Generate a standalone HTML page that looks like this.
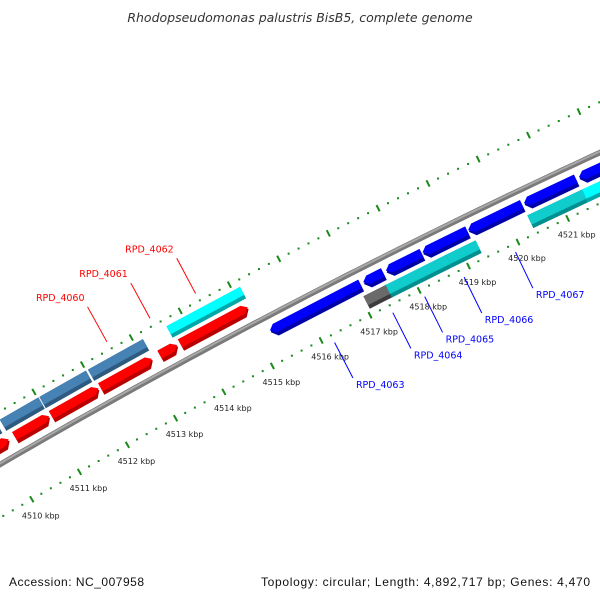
<!DOCTYPE html>
<html><head><meta charset="utf-8"><style>
html,body{margin:0;padding:0;background:#fff;}
svg{display:block;font-family:"DejaVu Sans","Liberation Sans",sans-serif;}
</style></head><body>
<svg id="chart" width="600" height="600" viewBox="0 0 600 600">
<text x="300" y="22" text-anchor="middle" font-size="12.5" font-style="italic" fill="#333">Rhodopseudomonas palustris BisB5, complete genome</text>
<g id="ruler"></g>
<g id="backbone"></g>
<g id="genes"></g>
<g id="labels"></g>
<text x="9" y="586" font-size="12" fill="#111" font-family="Liberation Sans, sans-serif" textLength="135">Accession: NC_007958</text>
<text x="590" y="586" text-anchor="end" font-size="12" fill="#111" font-family="Liberation Sans, sans-serif" textLength="329">Topology: circular; Length: 4,892,717 bp; Genes: 4,470</text>
</svg>
<script>
// gene data (kbp)
const geneStart = [4509.5, 4510.3, 4511.06, 4512.08, 4513.3, 4513.72, 4509.5, 4510.22, 4511.04, 4512.04, 4513.65, 4515.26, 4517.16, 4517.62, 4518.36, 4519.28, 4520.4, 4521.5, 4517.05, 4517.5, 4518.72, 4520.36, 4521.46];
const geneEnd   = [4510.18, 4511.02, 4512.04, 4513.14, 4513.66, 4515.1, 4510.14, 4511.02, 4512.0, 4513.17, 4515.15, 4517.1, 4517.56, 4518.34, 4519.26, 4520.36, 4521.44, 4522.6, 4517.52, 4518.72, 4519.32, 4521.46, 4522.6];
const geneStrand = [1,1,1,1,1,1,0,0,0,0,0,-1,-1,-1,-1,-1,-1,-1,0,0,0,0,0];
const geneRow = [1,1,1,1,1,1,2,2,2,2,2,-1,-1,-1,-1,-1,-1,-1,-2,-2,-2,-2,-2];
const geneColor = ["red","red","red","red","red","red","steel","steel","steel","steel","cyan","blue","blue","blue","blue","blue","blue","blue","gray","teal","teal","teal","cyan"];
const labelNames = ["RPD_4060","RPD_4061","RPD_4062","RPD_4063","RPD_4064","RPD_4065","RPD_4066","RPD_4067"];
const labelPos = [4512.58, 4513.46, 4514.39, 4516.2, 4517.39, 4518.04, 4518.84, 4519.88];
const labelSide = [1,1,1,-1,-1,-1,-1,-1];
const tickLabels = [4510,4511,4512,4513,4514,4515,4516,4517,4518,4519,4520,4521];

const NS="http://www.w3.org/2000/svg";
const CX=3600, CY=6656, R=7162, A0=242.12, K0=4515, DA=0.443;
function pt(k, off){const a=(A0+(k-K0)*DA)*Math.PI/180;const r=R+off;return [CX+r*Math.cos(a), CY+r*Math.sin(a)];}
function mk(tag, attrs, parent){const e=document.createElementNS(NS,tag);for(const k in attrs)e.setAttribute(k,attrs[k]);parent.appendChild(e);return e;}
const pal={red:["#ff0000","#b80000"],steel:["#4682b4","#2f5a80"],cyan:["#00ffff","#00a8a8"],teal:["#10cccc","#008f8f"],blue:["#0000ff","#0000a8"],gray:["#6a6a6a","#3c3c3c"]};
const rows={1:[9,22],2:[26,39],"-1":[-22,-9],"-2":[-40,-26]};

// ruler
const rg=document.getElementById('ruler');
[46,-46].forEach(off=>{
  for(let i=0;i<=80;i++){
    const k=4507.6+i*0.2;
    const isMaj=Math.abs(k-Math.round(k))<0.01;
    if(isMaj){
      const p1=pt(k,off-3.5),p2=pt(k,off+3.5);
      const t=mk('line',{x1:p1[0],y1:p1[1],x2:p2[0],y2:p2[1],stroke:"#1a8a1a","stroke-width":2},rg);
      
      
    }else{
      const p=pt(k,off);
      const d=mk('rect',{x:p[0]-1,y:p[1]-1,width:2,height:2,fill:"#1a8a1a"},rg);
      
      
    }
  }
});
tickLabels.forEach(k=>{
  const p=pt(k,-46);
  const t=mk('text',{x:p[0]+9,y:p[1]+19,"text-anchor":"middle","font-size":"8","fill":"#222"},rg);
  t.textContent=k+" kbp";
  
  
});

// backbone
const bg=document.getElementById('backbone');
{
  let d="";for(let i=0;i<=60;i++){const k=4507.5+i*0.27;const p=pt(k,0);d+=(i?"L":"M")+p[0].toFixed(1)+","+p[1].toFixed(1);}
  const b1=mk('path',{d:d,fill:"none",stroke:"#7a7a7a","stroke-width":5.5},bg);
  
  
  let d2="";for(let i=0;i<=60;i++){const k=4507.5+i*0.27;const p=pt(k,1);d2+=(i?"L":"M")+p[0].toFixed(1)+","+p[1].toFixed(1);}
  const b2=mk('path',{d:d2,fill:"none",stroke:"#a8a8a8","stroke-width":2},bg);
  
  
}

// genes
const gg=document.getElementById('genes');
function poly(pts){return pts.map(p=>p[0].toFixed(1)+","+p[1].toFixed(1)).join(" ");}
function shape(a,b,r1,r2,s){
  const h=0.1, m=(r1+r2)/2;
  if(s>0) return [pt(a,r1),pt(b-h,r1),pt(b,m),pt(b-h,r2),pt(a,r2)];
  if(s<0) return [pt(a+h,r1),pt(b,r1),pt(b,r2),pt(a+h,r2),pt(a,m)];
  return [pt(a,r1),pt(b,r1),pt(b,r2),pt(a,r2)];
}
for(let i=0;i<geneStart.length;i++){
  const [r1,r2]=rows[geneRow[i]];
  const c=pal[geneColor[i]];
  const g=mk('g',{},gg);
  
  
  mk('polygon',{points:poly(shape(geneStart[i],geneEnd[i],r1,r2,geneStrand[i])),fill:c[1]},g);
  mk('polygon',{points:poly(shape(geneStart[i],geneEnd[i],r1+4,r2,geneStrand[i])),fill:c[0]},g);
}

// labels
const lg=document.getElementById('labels');
for(let i=0;i<labelNames.length;i++){
  const s=labelSide[i], col=s>0?"#ff0000":"#0000ff";
  const p1=pt(labelPos[i],54*s), p2=pt(labelPos[i],94*s);
  const l=mk('line',{x1:p1[0],y1:p1[1],x2:p2[0],y2:p2[1],stroke:col,"stroke-width":1},lg);
  
  
  const t=s>0?mk('text',{x:p2[0]-3,y:p2[1]-6,"text-anchor":"end","font-size":"9.5",fill:col},lg)
             :mk('text',{x:p2[0]+3,y:p2[1]+10,"text-anchor":"start","font-size":"9.5",fill:col},lg);
  t.textContent=labelNames[i];
  
  
}
</script>
</body></html>
